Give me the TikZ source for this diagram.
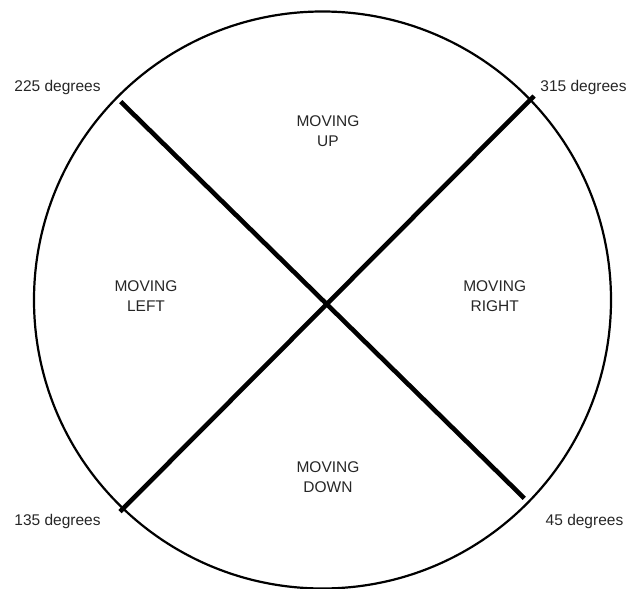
\documentclass[tikz,border=0pt]{standalone}
\usepackage{fontspec}
\setmainfont{Liberation Sans}
\tikzset{
  rim/.style={line width=2.2pt, draw=black},
  divider/.style={line width=4.6pt, draw=black},
  lbl/.style={font=\fontsize{15.5}{20}\selectfont, text=black!85, align=center, inner sep=0pt},
}
\begin{document}
\begin{tikzpicture}[x=1pt,y=-1pt]
\useasboundingbox (0,0) rectangle (630,589);
\draw[rim] (322.5,300) circle[radius=288.5];
\coordinate (ul) at (120.7,101.7);
\coordinate (ur) at (534,96);
\coordinate (ll) at (120,511.7);
\coordinate (lr) at (524.3,498.3);
\draw[divider] (ul) -- (lr);
\draw[divider] (ur) -- (ll);
\node[lbl] (d225) at (57.5,87) {225 degrees};
\node[lbl] (d315) at (583.5,87) {315 degrees};
\node[lbl] (d135) at (57.5,521.7) {135 degrees};
\node[lbl] (d45) at (584.5,521.7) {45 degrees};
\node[lbl] (up) at (328,130.7) {MOVING\\UP};
\node[lbl] (left) at (146,296.3) {MOVING\\LEFT};
\node[lbl] (right) at (494.7,296.3) {MOVING\\RIGHT};
\node[lbl] (down) at (328,477) {MOVING\\DOWN};
\end{tikzpicture}
\end{document}
